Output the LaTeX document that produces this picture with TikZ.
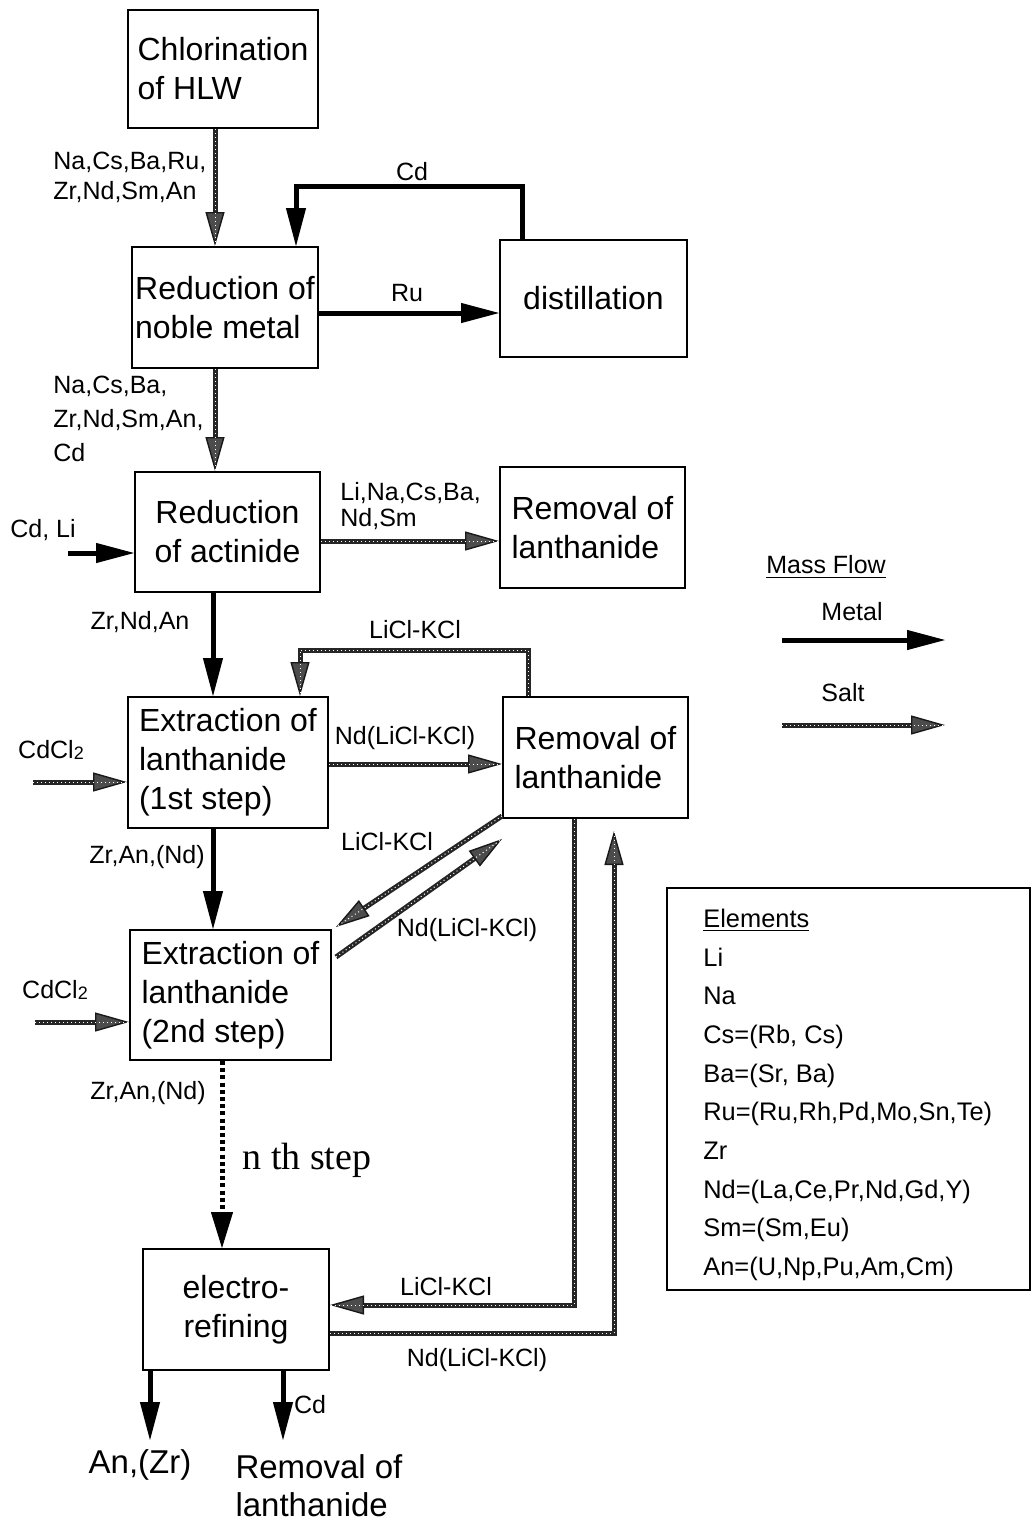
\documentclass[tikz,border=0pt]{standalone}
\usepackage{fontspec}
\setmainfont{Liberation Sans}
\newfontfamily\seriffont{Liberation Serif}
\usetikzlibrary{arrows.meta}
\begin{document}
\begin{tikzpicture}[x=0.5pt,y=-0.5pt,
 box/.style={draw, line width=1pt, inner sep=0pt, font=\fontsize{16}{19.5}\selectfont, align=left},
 lbl/.style={inner sep=0pt, font=\fontsize{12.5}{15}\selectfont, align=left},
 big/.style={inner sep=0pt, font=\fontsize{16.5}{19}\selectfont, align=left},
 metal/.style={line width=2.5pt, -{Triangle[length=19pt,width=10pt,line width=0.5pt]}},
 salt/.style={draw=black!85, line width=2.5pt,
   -{Triangle[length=17pt,width=9.5pt,line width=0.7pt,fill=black!70,color=black!90]},
   postaction={draw=white, line width=0.5pt, dash pattern=on 0.5pt off 1.5pt, -}},
 dots/.style={line width=2.5pt, dash pattern=on 2pt off 1.6pt, -{Triangle[length=18pt,width=11pt,line width=0.5pt]}}
]
\useasboundingbox (0,0) rectangle (1035,1523);
% boxes
\node[box, minimum width=95pt, minimum height=59pt] (chl) at (223,69) {Chlorination\\of HLW};
\node[box, minimum width=93pt, minimum height=60.5pt] (red) at (225,307.5) {Reduction of\\noble metal};
\node[box, minimum width=93.5pt, minimum height=58.5pt] (dist) at (593.5,298.5) {distillation};
\node[box, align=center, minimum width=92.5pt, minimum height=60pt] (act) at (227.5,532) {Reduction\\of actinide};
\node[box, minimum width=92.5pt, minimum height=60.5pt] (rem1) at (592.5,527.5) {Removal of\\lanthanide};
\node[box, minimum width=100pt, minimum height=65.5pt] (ext1) at (228,762.5) {Extraction of\\lanthanide\\(1st step)};
\node[box, minimum width=92.5pt, minimum height=60.5pt] (rem2) at (595.5,757.5) {Removal of\\lanthanide};
\node[box, minimum width=100.5pt, minimum height=65pt] (ext2) at (230.5,995) {Extraction of\\lanthanide\\(2nd step)};
\node[box, align=center, minimum width=93pt, minimum height=60.5pt] (el) at (236,1309.5) {electro-\\refining};
\node[draw, line width=1pt, minimum width=181.5pt, minimum height=201pt] (elbox) at (848.5,1089) {};
\node[lbl, anchor=north west, font=\fontsize{12.7}{19.35}\selectfont] (elems) at (703,908.5)
 {\underline{Elements}\\Li\\Na\\Cs=(Rb, Cs)\\Ba=(Sr, Ba)\\Ru=(Ru,Rh,Pd,Mo,Sn,Te)\\Zr\\Nd=(La,Ce,Pr,Nd,Gd,Y)\\Sm=(Sm,Eu)\\An=(U,Np,Pu,Am,Cm)};
% labels
\node[lbl, anchor=north west] (l1) at (53,151.5) {Na,Cs,Ba,Ru,\\Zr,Nd,Sm,An};
\node[lbl] (lcd) at (412,172) {Cd};
\node[lbl] (lru) at (407,293) {Ru};
\node[lbl, anchor=north west, font=\fontsize{12.5}{17}\selectfont] (l2) at (53,375.5) {Na,Cs,Ba,\\Zr,Nd,Sm,An,\\Cd};
\node[lbl] (lcdli) at (43,530) {Cd, Li};
\node[lbl, anchor=north west, font=\fontsize{12.5}{13}\selectfont] (l3) at (340,481.5) {Li,Na,Cs,Ba,\\Nd,Sm};
\node[lbl] (lzr1) at (140,622) {Zr,Nd,An};
\node[lbl] (llk1) at (415,630) {LiCl-KCl};
\node[lbl] (lcc1) at (51,750) {CdCl\raisebox{-0.5pt}{\fontsize{9}{9}\selectfont 2}};
\node[lbl] (lnd1) at (405,738) {Nd(LiCl-KCl)};
\node[lbl] (lzr2) at (147,857) {Zr,An,(Nd)};
\node[lbl] (llk2) at (387,842) {LiCl-KCl};
\node[lbl] (lnd2) at (467,930) {Nd(LiCl-KCl)};
\node[lbl] (lcc2) at (55,990) {CdCl\raisebox{-0.5pt}{\fontsize{9}{9}\selectfont 2}};
\node[lbl] (lzr3) at (148,1093) {Zr,An,(Nd)};
\node[inner sep=0pt, font=\seriffont\fontsize{19}{19}\selectfont] (lnth) at (307,1160) {n th step};
\node[lbl] (llk3) at (446,1287) {LiCl-KCl};
\node[lbl] (lnd3) at (477,1360) {Nd(LiCl-KCl)};
\node[lbl] (lcd3) at (310,1405) {Cd};
\node[big] (anzr) at (140,1465) {An,(Zr)};
\node[big] (remlan) at (319,1486) {Removal of\\lanthanide};
\node[lbl] (lmf) at (826,567) {\underline{Mass Flow}};
\node[lbl] (lmet) at (852,612) {Metal};
\node[lbl] (lsalt) at (843,693) {Salt};
% free ends
\coordinate (cdliS) at (68,553);
\coordinate (cc1S) at (33,782);
\coordinate (cc2S) at (35,1022);
\coordinate (anE) at (150,1440);
\coordinate (cdE) at (283,1440);
\coordinate (legM1) at (782,640);
\coordinate (legM2) at (945,640);
\coordinate (legS1) at (782,725);
\coordinate (legS2) at (945,725);
% connectors
\draw[salt] ([xshift=-4pt]chl.south) -- ([xshift=-5pt]red.north);
\draw[metal] ([xshift=-35.75pt]dist.north) -- ++(0,-53) -| ([xshift=35.5pt]red.north);
\draw[metal] ([yshift=-2.75pt]red.east) -- ([yshift=-7.25pt]dist.west);
\draw[salt] ([xshift=-5pt]red.south) -- ([xshift=-6.25pt]act.north);
\draw[metal] (cdliS) -- ([yshift=-10.5pt]act.west);
\draw[salt] ([yshift=-4.5pt]act.east) -- ([yshift=-6.75pt]rem1.west);
\draw[metal] ([xshift=-7.25pt]act.south) -- ([xshift=-7.5pt]ext1.north);
\draw[salt] ([xshift=-33.75pt]rem2.north) -- ++(0,-46) -| ([xshift=36pt]ext1.north);
\draw[salt] (cc1S) -- ([yshift=-9.75pt]ext1.west);
\draw[salt] ([yshift=-0.75pt]ext1.east) -- ([yshift=-3.25pt]rem2.west);
\draw[metal] ([xshift=-7.5pt]ext1.south) -- ([xshift=-8.75pt]ext2.north);
\draw[salt] ([yshift=1.5pt]rem2.south west) -- ([xshift=2pt,yshift=1pt]ext2.north east);
\draw[salt] ([xshift=2pt,yshift=19pt]ext2.east) -- ([yshift=-10pt]rem2.south west);
\draw[salt] (cc2S) -- ([yshift=-13.5pt]ext2.west);
\draw[dots] ([xshift=-4.25pt]ext2.south) -- ([xshift=-7pt]el.north);
\draw[salt] ([xshift=-10.75pt]rem2.south) |- ([yshift=2.25pt]el.east);
\draw[salt] ([yshift=-11.75pt]el.east) -| ([xshift=9.25pt,yshift=-6pt]rem2.south);
\draw[metal] ([xshift=-43pt]el.south) -- (anE);
\draw[metal] ([xshift=23.5pt]el.south) -- (cdE);
\draw[metal] (legM1) -- (legM2);
\draw[salt] (legS1) -- (legS2);
\end{tikzpicture}
\end{document}
